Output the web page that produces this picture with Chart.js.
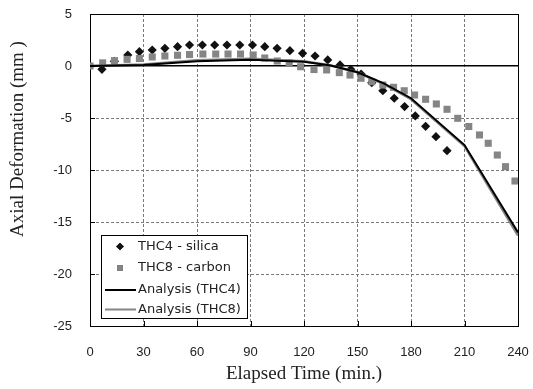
<!DOCTYPE html>
<html>
<head>
<meta charset="utf-8">
<script src="https://cdn.jsdelivr.net/npm/chart.js@4.4.0/dist/chart.umd.min.js"></script>
<style>
  html, body { margin: 0; padding: 0; background: #fff; }
  #wrap { width: 533px; height: 389px; }
</style>
</head>
<body>
<div id="wrap"><canvas id="chart" width="533" height="389"></canvas></div>
<script>
// === Données ===
const silicaTime = [0, 6.7, 13.7, 21.2, 27.7, 34.9, 42.0, 49.1, 55.8, 63.0, 69.9, 76.8, 84.0, 91.1, 98.0, 104.9,
    112.1, 119.2, 126.2, 133.3, 140.2, 146.2, 152.0, 158.0, 164.2, 170.6, 176.4, 182.4, 188.2, 194.0, 200.2];
const silicaDef = [0, -0.32, 0.45, 1.06, 1.38, 1.54, 1.70, 1.86, 2.02, 2.02, 2.02, 2.02, 2.02, 2.02, 1.86, 1.70,
    1.47, 1.22, 0.96, 0.58, 0.10, -0.32, -0.77, -1.6, -2.38, -3.1, -3.9, -4.8, -5.8, -6.8, -8.14];

const carbonTime = [0, 7.1, 13.7, 20.8, 27.7, 34.9, 42.0, 49.1, 55.8, 63.3, 70.5, 77.4, 84.4, 91.5, 98.0, 105.0,
    111.7, 118.1, 125.6, 132.7, 139.8, 145.8, 152.0, 158.0, 164.2, 170.2, 176.2, 182.0, 188.2, 194.2, 200.2,
    206.2, 212.4, 218.4, 223.3, 228.4, 233.0, 238.3];
const carbonDef = [0, 0.3, 0.51, 0.64, 0.72, 0.87, 0.96, 1.03, 1.10, 1.15, 1.15, 1.15, 1.15, 1.06, 0.77, 0.48,
    0.32, -0.07, -0.34, -0.38, -0.64, -0.87, -1.18, -1.51, -1.83, -2.05, -2.38, -2.79, -3.2, -3.65, -4.16,
    -5.03, -5.82, -6.63, -7.43, -8.56, -9.68, -11.06];

const analysisTime = [0, 30, 60, 90, 120, 135, 150, 165, 180, 210, 240];
const analysisThc4 = [0, 0.1, 0.45, 0.6, 0.4, 0.05, -0.6, -1.7, -3.1, -7.6, -16.0];
const analysisThc8 = [0, 0.15, 0.55, 0.7, 0.45, 0.05, -0.6, -1.75, -3.2, -7.7, -16.3];

const xTicks = [0, 30, 60, 90, 120, 150, 180, 210, 240];
const yTicks = [5, 0, -5, -10, -15, -20, -25];

const pts = (xs, ys) => xs.map((x, i) => ({ x: x, y: ys[i] }));

const GREY = '#858585';
const TXT = '#222';

// === Légende dans la zone du graphique ===
const insideLegend = {
    id: 'insideLegend',
    afterDatasetsDraw(chart) {
        const ctx = chart.ctx;
        const x0 = 101, y0 = 235, w = 146, h = 83;
        ctx.save();
        ctx.fillStyle = '#fff';
        ctx.fillRect(x0, y0, w, h);
        ctx.strokeStyle = '#000';
        ctx.lineWidth = 1;
        ctx.strokeRect(x0 + 0.5, y0 + 0.5, w, h);
        ctx.font = '13px "DejaVu Sans"';
        ctx.textBaseline = 'middle';
        ctx.fillStyle = TXT;
        const rows = [246.5, 268, 290, 309.5];
        chart.data.datasets.forEach((ds, i) => {
            const y = rows[i];
            if (ds.showLine === false) {
                Chart.helpers.drawPoint(ctx, {
                    pointStyle: ds.pointStyle, radius: ds.pointRadius - 0.8, borderWidth: 0
                }, 120, y);
                ctx.fillStyle = ds.backgroundColor;
                ctx.fill();
            } else {
                ctx.beginPath();
                ctx.moveTo(105, y);
                ctx.lineTo(136, y);
                ctx.strokeStyle = ds.borderColor;
                ctx.lineWidth = 2;
                ctx.stroke();
            }
            ctx.fillStyle = TXT;
            ctx.fillText(ds.label, 138, y);
        });
        ctx.restore();
    }
};

// === Petites graduations intérieures + titre de l'axe Y ===
const extras = {
    id: 'extras',
    afterDraw(chart) {
        const ctx = chart.ctx;
        const a = chart.chartArea;
        const xs = chart.scales.x, ys = chart.scales.y;
        ctx.save();
        ctx.strokeStyle = '#000';
        ctx.lineWidth = 1;
        ctx.beginPath();
        xTicks.forEach(v => {
            const px = Math.round(xs.getPixelForValue(v)) + 0.5;
            ctx.moveTo(px, a.bottom);
            ctx.lineTo(px, a.bottom - 5);
        });
        yTicks.forEach(v => {
            const py = Math.round(ys.getPixelForValue(v)) + 0.5;
            ctx.moveTo(a.left, py);
            ctx.lineTo(a.left + 5, py);
        });
        ctx.stroke();

        ctx.translate(18, 139);
        ctx.rotate(-Math.PI / 2);
        ctx.font = '19px "Liberation Serif"';
        ctx.textAlign = 'center';
        ctx.textBaseline = 'middle';
        ctx.fillStyle = TXT;
        ctx.fillText('Axial Deformation (mm )', 0, 0);
        ctx.restore();
    }
};

const dashOf = (edgeVal) => c => (c.tick && (c.tick.value === 0 || c.tick.value === edgeVal)) ? [] : [3, 2];
const colorOf = (edgeVal) => c => (c.tick && (c.tick.value === 0 || c.tick.value === edgeVal)) ? '#000' : '#7a7a7a';

new Chart(document.getElementById('chart'), {
    type: 'scatter',
    data: {
        datasets: [{
            label: 'THC4 - silica',
            data: pts(silicaTime, silicaDef),
            showLine: false,
            pointStyle: 'rectRot',
            pointRadius: 4.6,
            backgroundColor: '#111',
            borderWidth: 0,
            order: 4
        }, {
            label: 'THC8 - carbon',
            data: pts(carbonTime, carbonDef),
            showLine: false,
            pointStyle: 'rect',
            pointRadius: 5,
            backgroundColor: GREY,
            borderWidth: 0,
            order: 3
        }, {
            label: 'Analysis (THC4)',
            data: pts(analysisTime, analysisThc4),
            showLine: true,
            borderColor: '#000',
            borderWidth: 2,
            pointRadius: 0,
            order: 1
        }, {
            label: 'Analysis (THC8)',
            data: pts(analysisTime, analysisThc8),
            showLine: true,
            borderColor: GREY,
            borderWidth: 2.5,
            pointRadius: 0,
            order: 2
        }]
    },
    options: {
        responsive: false,
        animation: false,
        layout: { padding: { top: 14, right: 15, left: 0, bottom: 0 } },
        plugins: { legend: { display: false }, tooltip: { enabled: false } },
        scales: {
            x: {
                type: 'linear',
                min: 0, max: 240,
                afterFit: s => { s.height = 63; s.paddingLeft = 0; s.paddingRight = 0; },
                afterBuildTicks: s => { s.ticks = xTicks.map(v => ({ value: v })); },
                ticks: { color: TXT, font: { family: 'Liberation Sans', size: 13 }, padding: 19 },
                grid: { color: colorOf(240), drawTicks: false, lineWidth: 1 },
                border: { color: '#000', width: 1, dash: dashOf(240) },
                title: {
                    display: true, text: 'Elapsed Time (min.)', color: TXT,
                    font: { family: 'Liberation Serif', size: 19 }, padding: { top: 0, bottom: 4 }
                }
            },
            y: {
                min: -25, max: 5,
                afterFit: s => { s.width = 90; s.paddingTop = 0; s.paddingBottom = 0; },
                afterBuildTicks: s => { s.ticks = yTicks.map(v => ({ value: v })); },
                ticks: { color: TXT, font: { family: 'Liberation Sans', size: 13 }, padding: 18 },
                grid: {
                    color: colorOf(5), drawTicks: false,
                    lineWidth: c => (c.tick && c.tick.value === 0) ? 1.5 : 1
                },
                border: { color: '#000', width: 1, dash: dashOf(5) }
            }
        }
    },
    plugins: [insideLegend, extras]
});
</script>
</body>
</html>
